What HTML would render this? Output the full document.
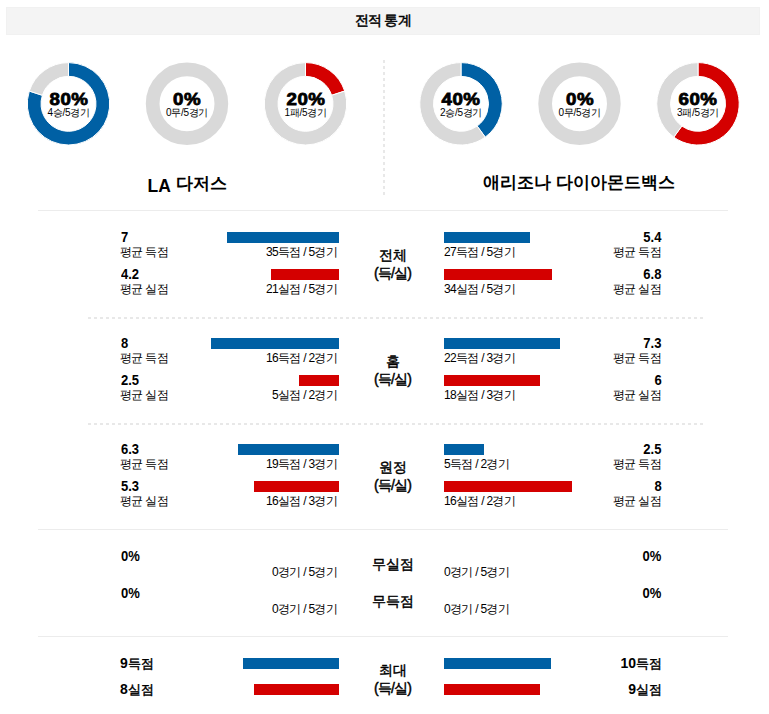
<!DOCTYPE html><html><head><meta charset="utf-8"><style>
*{margin:0;padding:0;box-sizing:border-box}
html,body{width:769px;height:714px;background:#fff;overflow:hidden;font-family:"Liberation Sans",sans-serif;color:#000}
.a{position:absolute;white-space:nowrap}
.hdr{position:absolute;left:6px;top:7px;width:754px;height:28px;background:#f4f4f4;border:1px solid #f1f1f1}
.ttl{position:absolute;left:0;width:766px;top:10.5px;text-align:center;font-size:13.5px;font-weight:normal;-webkit-text-stroke:0.5px #000;line-height:20px;letter-spacing:-0.8px}
.pct{position:absolute;width:100px;text-align:center;font-weight:bold;font-size:17px;line-height:20px;-webkit-text-stroke:0.8px #000;letter-spacing:0.4px;transform:scaleX(1.1)}
.sub{position:absolute;width:100px;text-align:center;font-size:10px;line-height:12px;letter-spacing:-0.3px}
.team{position:absolute;width:300px;text-align:center;font-size:17px;font-weight:bold;line-height:22px}
.vsep{position:absolute;left:383px;top:60px;width:2px;height:135px;background:repeating-linear-gradient(to bottom,#e8e8e8 0,#e8e8e8 3px,transparent 3px,transparent 6px)}
.sol{position:absolute;left:38px;width:690px;height:1px;background:#ececec}
.dsh{position:absolute;left:88px;width:615px;height:2px;background:repeating-linear-gradient(to right,#e8e8e8 0,#e8e8e8 3px,transparent 3px,transparent 6px)}
.val{font-size:14px;font-weight:bold;line-height:15px;transform:scaleX(0.93);transform-origin:left}
.vr{transform-origin:right}
.lbl{font-size:12px;line-height:15px;letter-spacing:-0.7px}
.bar{position:absolute;height:11px}
.dl{letter-spacing:-0.8px}
.kb{font-weight:normal;-webkit-text-stroke:0.45px #000}
.b{background:#0060a4}.r{background:#d40000}
.cen{position:absolute;left:292.5px;width:200px;text-align:center;font-size:14px;font-weight:normal;-webkit-text-stroke:0.45px #000;line-height:18px}
</style></head><body>

<div class="hdr"></div><div class="ttl">전적 통계</div>
<svg width="769" height="200" style="position:absolute;left:0;top:0"><path d="M68.50,62.60 A41.2,41.2 0 1 1 29.32,91.07 L42.35,95.30 A27.5,27.5 0 1 0 68.50,76.30 Z" fill="#0060a4" stroke="#fff" stroke-width="1"/><path d="M29.32,91.07 A41.2,41.2 0 0 1 68.50,62.60 L68.50,76.30 A27.5,27.5 0 0 0 42.35,95.30 Z" fill="#d9d9d9" stroke="#fff" stroke-width="1"/><circle cx="187" cy="103.8" r="34.35" fill="none" stroke="#d9d9d9" stroke-width="13.700000000000003"/><path d="M305.50,62.60 A41.2,41.2 0 0 1 344.68,91.07 L331.65,95.30 A27.5,27.5 0 0 0 305.50,76.30 Z" fill="#d40000" stroke="#fff" stroke-width="1"/><path d="M344.68,91.07 A41.2,41.2 0 1 1 305.50,62.60 L305.50,76.30 A27.5,27.5 0 1 0 331.65,95.30 Z" fill="#d9d9d9" stroke="#fff" stroke-width="1"/><path d="M461.00,62.60 A41.2,41.2 0 0 1 485.22,137.13 L477.16,126.05 A27.5,27.5 0 0 0 461.00,76.30 Z" fill="#0060a4" stroke="#fff" stroke-width="1"/><path d="M485.22,137.13 A41.2,41.2 0 1 1 461.00,62.60 L461.00,76.30 A27.5,27.5 0 1 0 477.16,126.05 Z" fill="#d9d9d9" stroke="#fff" stroke-width="1"/><circle cx="579.5" cy="103.8" r="34.35" fill="none" stroke="#d9d9d9" stroke-width="13.700000000000003"/><path d="M698.00,62.60 A41.2,41.2 0 1 1 673.78,137.13 L681.84,126.05 A27.5,27.5 0 1 0 698.00,76.30 Z" fill="#d40000" stroke="#fff" stroke-width="1"/><path d="M673.78,137.13 A41.2,41.2 0 0 1 698.00,62.60 L698.00,76.30 A27.5,27.5 0 0 0 681.84,126.05 Z" fill="#d9d9d9" stroke="#fff" stroke-width="1"/></svg>
<div class="pct" style="left:18.5px;top:90px">80%</div>
<div class="sub" style="left:18.5px;top:106.5px">4승/5경기</div>
<div class="pct" style="left:137px;top:90px">0%</div>
<div class="sub" style="left:137px;top:106.5px">0무/5경기</div>
<div class="pct" style="left:255.5px;top:90px">20%</div>
<div class="sub" style="left:255.5px;top:106.5px">1패/5경기</div>
<div class="pct" style="left:411px;top:90px">40%</div>
<div class="sub" style="left:411px;top:106.5px">2승/5경기</div>
<div class="pct" style="left:529.5px;top:90px">0%</div>
<div class="sub" style="left:529.5px;top:106.5px">0무/5경기</div>
<div class="pct" style="left:648px;top:90px">60%</div>
<div class="sub" style="left:648px;top:106.5px">3패/5경기</div>
<div class="vsep"></div>
<div class="team" style="left:37px;top:172px"><span style="position:relative;top:2.5px;font-size:17.5px">LA</span> 다저스</div>
<div class="team" style="left:429px;top:172px">애리조나 다이아몬드백스</div>
<div class="sol" style="top:210px"></div>
<div class="dsh" style="top:317px"></div>
<div class="dsh" style="top:423px"></div>
<div class="sol" style="top:529px"></div>
<div class="sol" style="top:636px"></div>
<div class="a val" style="left:120.5px;top:229.5px">7</div>
<div class="a lbl" style="left:120px;top:245px">평균 득점</div>
<div class="bar b" style="left:227px;top:232px;width:112px"></div>
<div class="a lbl" style="right:432px;top:245px">35득점 / 5경기</div>
<div class="a val vr" style="right:107.5px;top:229.5px">5.4</div>
<div class="a lbl" style="right:108px;top:245px">평균 득점</div>
<div class="bar b" style="left:444px;top:232px;width:86px"></div>
<div class="a lbl" style="left:444px;top:245px">27득점 / 5경기</div>
<div class="a val" style="left:120.5px;top:266.5px">4.2</div>
<div class="a lbl" style="left:120px;top:282px">평균 실점</div>
<div class="bar r" style="left:271px;top:269px;width:68px"></div>
<div class="a lbl" style="right:432px;top:282px">21실점 / 5경기</div>
<div class="a val vr" style="right:107.5px;top:266.5px">6.8</div>
<div class="a lbl" style="right:108px;top:282px">평균 실점</div>
<div class="bar r" style="left:444px;top:269px;width:108px"></div>
<div class="a lbl" style="left:444px;top:282px">34실점 / 5경기</div>
<div class="cen" style="top:245.5px">전체<br><span class=dl>(득/실)</span></div>
<div class="a val" style="left:120.5px;top:335.5px">8</div>
<div class="a lbl" style="left:120px;top:351px">평균 득점</div>
<div class="bar b" style="left:211px;top:338px;width:128px"></div>
<div class="a lbl" style="right:432px;top:351px">16득점 / 2경기</div>
<div class="a val vr" style="right:107.5px;top:335.5px">7.3</div>
<div class="a lbl" style="right:108px;top:351px">평균 득점</div>
<div class="bar b" style="left:444px;top:338px;width:116px"></div>
<div class="a lbl" style="left:444px;top:351px">22득점 / 3경기</div>
<div class="a val" style="left:120.5px;top:372.5px">2.5</div>
<div class="a lbl" style="left:120px;top:388px">평균 실점</div>
<div class="bar r" style="left:299px;top:375px;width:40px"></div>
<div class="a lbl" style="right:432px;top:388px">5실점 / 2경기</div>
<div class="a val vr" style="right:107.5px;top:372.5px">6</div>
<div class="a lbl" style="right:108px;top:388px">평균 실점</div>
<div class="bar r" style="left:444px;top:375px;width:96px"></div>
<div class="a lbl" style="left:444px;top:388px">18실점 / 3경기</div>
<div class="cen" style="top:351.5px">홈<br><span class=dl>(득/실)</span></div>
<div class="a val" style="left:120.5px;top:441.5px">6.3</div>
<div class="a lbl" style="left:120px;top:457px">평균 득점</div>
<div class="bar b" style="left:238px;top:444px;width:101px"></div>
<div class="a lbl" style="right:432px;top:457px">19득점 / 3경기</div>
<div class="a val vr" style="right:107.5px;top:441.5px">2.5</div>
<div class="a lbl" style="right:108px;top:457px">평균 득점</div>
<div class="bar b" style="left:444px;top:444px;width:40px"></div>
<div class="a lbl" style="left:444px;top:457px">5득점 / 2경기</div>
<div class="a val" style="left:120.5px;top:478.5px">5.3</div>
<div class="a lbl" style="left:120px;top:494px">평균 실점</div>
<div class="bar r" style="left:254px;top:481px;width:85px"></div>
<div class="a lbl" style="right:432px;top:494px">16실점 / 3경기</div>
<div class="a val vr" style="right:107.5px;top:478.5px">8</div>
<div class="a lbl" style="right:108px;top:494px">평균 실점</div>
<div class="bar r" style="left:444px;top:481px;width:128px"></div>
<div class="a lbl" style="left:444px;top:494px">16실점 / 2경기</div>
<div class="cen" style="top:457.5px">원정<br><span class=dl>(득/실)</span></div>
<div class="a val" style="left:120.5px;top:549.0px">0%</div>
<div class="a lbl" style="right:432px;top:564.5px">0경기 / 5경기</div>
<div class="a val vr" style="right:107.5px;top:549.0px">0%</div>
<div class="a lbl" style="left:444px;top:564.5px">0경기 / 5경기</div>
<div class="cen" style="top:555.0px">무실점</div>
<div class="a val" style="left:120.5px;top:586.0px">0%</div>
<div class="a lbl" style="right:432px;top:601.5px">0경기 / 5경기</div>
<div class="a val vr" style="right:107.5px;top:586.0px">0%</div>
<div class="a lbl" style="left:444px;top:601.5px">0경기 / 5경기</div>
<div class="cen" style="top:592.0px">무득점</div>
<div class="a val" style="left:120px;top:656px;font-size:13px;transform:none"><span style="font-size:14px">9</span><span class="kb">득점</span></div>
<div class="bar b" style="left:243px;top:658px;width:96px"></div>
<div class="a val vr" style="right:107px;top:656px;font-size:13px;transform:none"><span style="font-size:14px">10</span><span class="kb">득점</span></div>
<div class="bar b" style="left:444px;top:658px;width:107px"></div>
<div class="a val" style="left:120px;top:682px;font-size:13px;transform:none"><span style="font-size:14px">8</span><span class="kb">실점</span></div>
<div class="bar r" style="left:254px;top:684px;width:85px"></div>
<div class="a val vr" style="right:107px;top:682px;font-size:13px;transform:none"><span style="font-size:14px">9</span><span class="kb">실점</span></div>
<div class="bar r" style="left:444px;top:684px;width:96px"></div>
<div class="cen" style="top:661px">최대<br><span class=dl>(득/실)</span></div>
</body></html>
